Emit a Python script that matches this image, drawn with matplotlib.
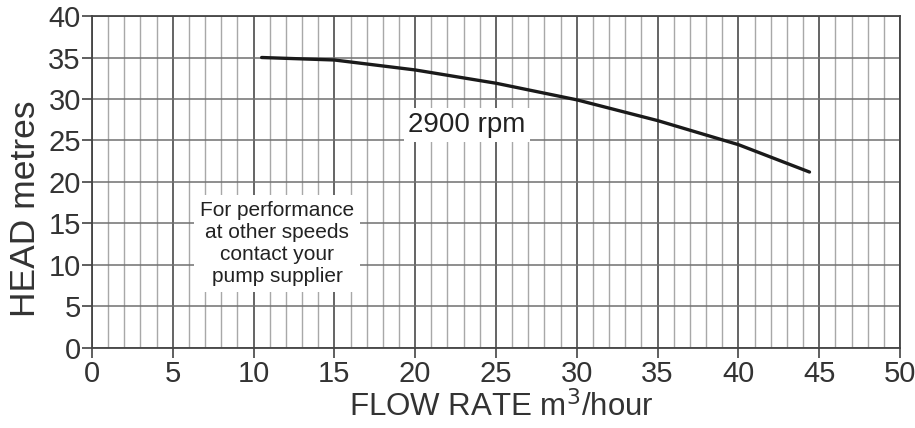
import matplotlib
matplotlib.use("Agg")
import matplotlib.pyplot as plt
import numpy as np

flow = [10.5, 15, 20, 25, 30, 35, 40, 44.4]
head = [35.0, 34.7, 33.5, 31.9, 29.9, 27.4, 24.5, 21.2]
curve_label = "2900 rpm"
note = "For performance\nat other speeds\ncontact your\npump supplier"
xticks = list(range(0, 51, 5))
yticks = list(range(0, 41, 5))

plt.rcParams['font.family'] = ['Liberation Sans', 'DejaVu Sans']
fig = plt.figure(figsize=(9.15, 4.28), dpi=100)
ax = fig.add_axes([0.1005, 0.187, 0.8831, 0.7756])
ax.set_xlim(0, 50)
ax.set_ylim(0, 40)

for x in range(0, 51):
    if x % 5 == 0:
        ax.axvline(x, color='#4a4a4a', lw=1.2, zorder=1)
    else:
        ax.axvline(x, color='#a8a8a8', lw=1.0, zorder=1)
for y in yticks:
    ax.axhline(y, color='#707070', lw=1.1, zorder=1)

ax.plot(flow, head, color='#1a1a1a', lw=2.4, zorder=3, solid_capstyle='round')

ax.text(23.2, 26.9, curve_label, fontsize=20, ha='center', va='center', color='#222222',
        bbox=dict(facecolor='white', edgecolor='none', pad=3), zorder=4)
ax.text(11.45, 12.6, note, fontsize=15, ha='center', va='center', color='#222222',
        linespacing=1.2,
        bbox=dict(facecolor='white', edgecolor='none', pad=4), zorder=4)

ax.set_xticks(xticks)
ax.set_yticks(yticks)
ax.tick_params(axis='both', labelsize=21, colors='#333333', length=7, width=1.1, direction='out', pad=1)
ax.tick_params(axis='x', pad=2)
for s in ax.spines.values():
    s.set_color('#444444')
    s.set_linewidth(1.3)
ax.set_xlabel("FLOW RATE m$^3$/hour", fontsize=22.5, color='#333333')
ax.set_ylabel("HEAD metres", fontsize=25.5, color='#333333')
ax.yaxis.set_label_coords(-0.062, 0.42)
ax.xaxis.set_label_coords(0.507, -0.13)

fig.savefig("out.png", dpi=100)
